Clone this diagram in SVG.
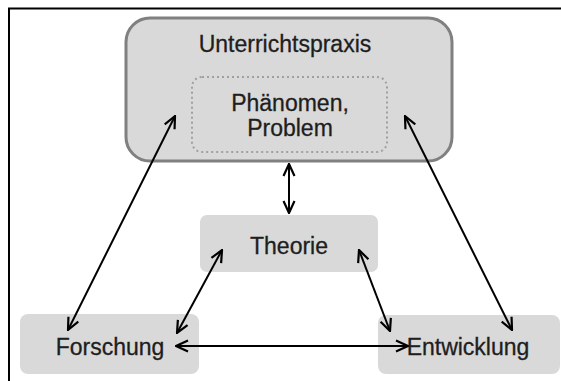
<svg xmlns="http://www.w3.org/2000/svg" width="561" height="381" viewBox="0 0 561 381">
  <style>
    .box { fill: #d9d9d9; }
    .label { font-family: "Liberation Sans", Arial, sans-serif; fill: #1e1e1e; text-anchor: middle; font-size: 23px; stroke: #1e1e1e; stroke-width: 0.3; }
    .conn { stroke: #000; stroke-width: 2; fill: none; marker-start: url(#head); marker-end: url(#head); }
  </style>
  <defs>
    <marker id="head" viewBox="0 0 14 14" refX="13" refY="7" markerWidth="14" markerHeight="14" markerUnits="userSpaceOnUse" orient="auto-start-reverse">
      <path d="M1,1.5 L13,7 L1,12.5" fill="none" stroke="#000" stroke-width="2.2"/>
    </marker>
  </defs>
  <rect width="561" height="381" fill="#fff"/>
  <!-- frame -->
  <path d="M9,381 V8.5 H561" fill="none" stroke="#000" stroke-width="2"/>

  <g id="unterrichtspraxis">
    <rect class="box" x="126" y="18" width="326" height="143" rx="24" stroke="#808080" stroke-width="3"/>
    <text class="label" x="285" y="52" font-size="24.5">Unterrichtspraxis</text>
  </g>
  <g id="phaenomen">
    <rect x="192" y="77" width="195" height="75" rx="10" fill="none" stroke="#a0a0a0" stroke-width="2" stroke-dasharray="2 3"/>
    <text class="label" x="290" y="111">Phänomen,</text>
    <text class="label" x="290" y="136">Problem</text>
  </g>
  <g id="theorie">
    <rect class="box" x="200" y="215" width="178" height="57" rx="7"/>
    <text class="label" x="289" y="254">Theorie</text>
  </g>
  <g id="forschung">
    <rect class="box" x="20" y="314" width="179" height="60" rx="8"/>
    <text class="label" x="110" y="355">Forschung</text>
  </g>
  <g id="entwicklung">
    <rect class="box" x="378" y="315" width="182" height="59" rx="8"/>
    <text class="label" x="468" y="355">Entwicklung</text>
  </g>

  <g id="connectors">
    <line class="conn" x1="289" y1="164" x2="289" y2="213"/>
    <line class="conn" x1="175" y1="116" x2="68" y2="330"/>
    <line class="conn" x1="405" y1="116" x2="512" y2="330"/>
    <line class="conn" x1="222" y1="250" x2="177" y2="333"/>
    <line class="conn" x1="359" y1="250" x2="390" y2="331"/>
    <line class="conn" x1="176" y1="346" x2="408" y2="346"/>
  </g>
</svg>
